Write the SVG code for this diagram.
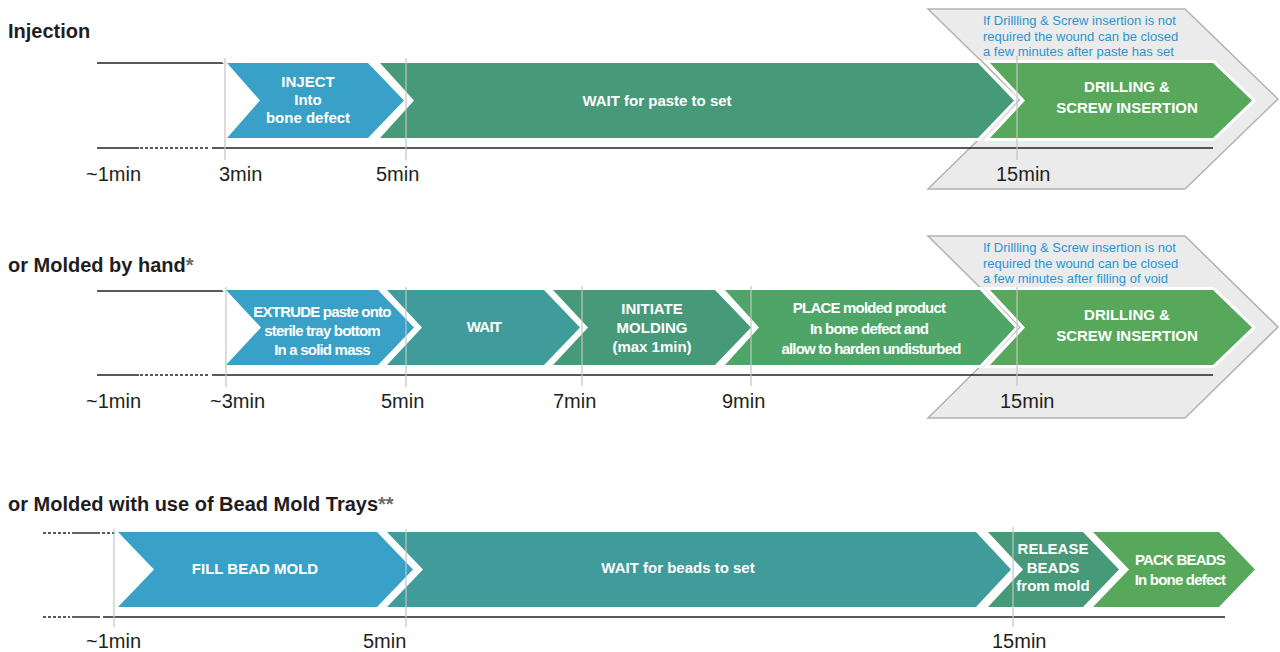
<svg xmlns="http://www.w3.org/2000/svg" width="1280" height="652" viewBox="0 0 1280 652">
<style>
.bg{fill:#ffffff}
.title{font-family:"Liberation Sans",Arial,sans-serif;font-size:20px;font-weight:bold;fill:#1f1d1e}
.ast{fill:#6a6a6a}
.tl{font-family:"Liberation Sans",Arial,sans-serif;font-size:20px;fill:#231f20}
.lab{font-family:"Liberation Sans",Arial,sans-serif;font-size:15px;font-weight:bold;fill:#ffffff;text-anchor:middle}
.cond{letter-spacing:-0.8px}
.note{font-family:"Liberation Sans",Arial,sans-serif;font-size:13px;fill:#2a95d2}
.chev{stroke:#ffffff;stroke-width:6;paint-order:stroke fill;stroke-linejoin:miter}
.blue{fill:#39a1c8}
.teal{fill:#3f9c9a}
.gteal{fill:#469a7a}
.green2{fill:#4fa468}
.green{fill:#58a85c}
.gray{fill:#ebebeb;stroke:#b2b2b2;stroke-width:1.5}
.axis{stroke:#222222;stroke-width:1.4;fill:none}
.dash{stroke:#222222;stroke-width:1.4;stroke-dasharray:3 2;fill:none}
.tick{stroke:#c4c4c4;stroke-width:1.2;fill:none}
</style>
<rect class="bg" x="0" y="0" width="1280" height="652"/>

<!-- titles -->
<text class="title" x="8" y="38">Injection</text>
<text class="title" x="8" y="272">or Molded by hand<tspan class="ast">*</tspan></text>
<text class="title" x="8" y="511">or Molded with use of Bead Mold Trays<tspan class="ast">**</tspan></text>

<!-- gray optional zones -->
<g id="note1">
<polygon class="gray" points="928,9 1185,9 1278,99 1185,189 928,189 1020,99"/>
<text class="note" x="983" y="25">If Drillling &amp; Screw insertion is not</text>
<text class="note" x="983" y="41">required the wound can be closed</text>
<text class="note" x="983" y="56">a few minutes after paste has set</text>
</g>
<g id="note2">
<polygon class="gray" points="928,236 1185,236 1278,327 1185,418 928,418 1020,327"/>
<text class="note" x="983" y="252">If Drillling &amp; Screw insertion is not</text>
<text class="note" x="983" y="268">required the wound can be closed</text>
<text class="note" x="983" y="283">a few minutes after filling of void</text>
</g>

<!-- timelines -->
<g id="connectors">
<line class="axis" x1="97" y1="63" x2="227" y2="63"/>
<line class="axis" x1="97" y1="148" x2="139" y2="148"/>
<line class="dash" x1="140" y1="148" x2="210" y2="148"/>
<line class="axis" x1="212" y1="148" x2="1213" y2="148"/>

<line class="axis" x1="97" y1="291" x2="226" y2="291"/>
<line class="axis" x1="97" y1="375" x2="139" y2="375"/>
<line class="dash" x1="140" y1="375" x2="210" y2="375"/>
<line class="axis" x1="212" y1="375" x2="1213" y2="375"/>

<line class="dash" x1="43" y1="533" x2="70" y2="533"/>
<line class="axis" x1="72" y1="533" x2="100" y2="533"/>
<line class="dash" x1="102" y1="533" x2="117" y2="533"/>
<line class="dash" x1="43" y1="617" x2="70" y2="617"/>
<line class="axis" x1="72" y1="617" x2="100" y2="617"/>
<line class="axis" x1="103" y1="617" x2="1225" y2="617"/>
</g>

<!-- row 1 -->
<g id="inject">
<polygon class="chev blue" points="227,63 368,63 404,100.5 368,138 227,138 260,100.5"/>
<text class="lab" x="308" y="87">INJECT</text>
<text class="lab" x="308" y="105">Into</text>
<text class="lab" x="308" y="123">bone defect</text>
</g>
<g id="wait1">
<polygon class="chev gteal" points="380,63 978,63 1014,100.5 978,138 380,138 414,100.5"/>
<text class="lab" x="657" y="106">WAIT for paste to set</text>
</g>
<g id="drill1">
<polygon class="chev green" points="990,63 1213,63 1252,100.5 1213,138 990,138 1025,100.5"/>
<text class="lab" x="1127" y="92">DRILLING &amp;</text>
<text class="lab" x="1127" y="113">SCREW INSERTION</text>
</g>

<!-- row 2 -->
<g id="extrude">
<polygon class="chev blue" points="226,290 378,290 414,327.5 378,365 226,365 261,327.5"/>
<text class="lab cond" x="322" y="317">EXTRUDE paste onto</text>
<text class="lab cond" x="322" y="336">sterile tray bottom</text>
<text class="lab cond" x="322" y="355">In a solid mass</text>
</g>
<g id="wait2">
<polygon class="chev teal" points="387,290 544,290 580,327.5 544,365 387,365 422,327.5"/>
<text class="lab cond" x="484" y="332">WAIT</text>
</g>
<g id="initiate">
<polygon class="chev gteal" points="553,290 715,290 751,327.5 715,365 553,365 588,327.5"/>
<text class="lab" x="652" y="314">INITIATE</text>
<text class="lab" x="652" y="333">MOLDING</text>
<text class="lab" x="652" y="352">(max 1min)</text>
</g>
<g id="place">
<polygon class="chev green2" points="725,290 980,290 1015,327.5 980,365 725,365 759,327.5"/>
<text class="lab cond" x="869" y="313">PLACE molded product</text>
<text class="lab cond" x="869" y="334">In bone defect and</text>
<text class="lab cond" x="871" y="354">allow to harden undisturbed</text>
</g>
<g id="drill2">
<polygon class="chev green" points="990,290 1213,290 1252,327.5 1213,365 990,365 1025,327.5"/>
<text class="lab" x="1127" y="320">DRILLING &amp;</text>
<text class="lab" x="1127" y="341">SCREW INSERTION</text>
</g>

<!-- row 3 -->
<g id="fill">
<polygon class="chev blue" points="118,532 377,532 413,569.5 377,607 118,607 154,569.5"/>
<text class="lab" x="255" y="574">FILL BEAD MOLD</text>
</g>
<g id="wait3">
<polygon class="chev teal" points="387,532 976,532 1011,569.5 976,607 387,607 423,569.5"/>
<text class="lab" x="678" y="573">WAIT for beads to set</text>
</g>
<g id="release">
<polygon class="chev gteal" points="988,532 1083,532 1119,569.5 1083,607 988,607 1023,569.5"/>
<text class="lab" x="1053" y="554">RELEASE</text>
<text class="lab" x="1053" y="573">BEADS</text>
<text class="lab" x="1053" y="591">from mold</text>
</g>
<g id="pack">
<polygon class="chev green" points="1093,532 1219,532 1255,569.5 1219,607 1093,607 1129,569.5"/>
<text class="lab cond" x="1180" y="565">PACK BEADS</text>
<text class="lab cond" x="1180" y="585">In bone defect</text>
</g>

<!-- ticks -->
<g id="ticks">
<line class="tick" x1="225" y1="58" x2="225" y2="160"/>
<line class="tick" x1="406" y1="58" x2="406" y2="160"/>
<line class="tick" x1="1017" y1="56" x2="1017" y2="160"/>
<line class="tick" x1="226" y1="287" x2="226" y2="387"/>
<line class="tick" x1="406" y1="287" x2="406" y2="387"/>
<line class="tick" x1="582" y1="286" x2="582" y2="386"/>
<line class="tick" x1="751" y1="286" x2="751" y2="386"/>
<line class="tick" x1="1017" y1="287" x2="1017" y2="386"/>
<line class="tick" x1="114" y1="529" x2="114" y2="627"/>
<line class="tick" x1="406" y1="529" x2="406" y2="627"/>
<line class="tick" x1="1013" y1="527" x2="1013" y2="627"/>
</g>

<!-- time labels -->
<g id="times">
<text class="tl" x="86" y="181">~1min</text>
<text class="tl" x="219" y="181">3min</text>
<text class="tl" x="376" y="181">5min</text>
<text class="tl" x="996" y="181">15min</text>
<text class="tl" x="86" y="408">~1min</text>
<text class="tl" x="210" y="408">~3min</text>
<text class="tl" x="381" y="408">5min</text>
<text class="tl" x="553" y="408">7min</text>
<text class="tl" x="722" y="408">9min</text>
<text class="tl" x="1000" y="408">15min</text>
<text class="tl" x="86" y="648">~1min</text>
<text class="tl" x="363" y="648">5min</text>
<text class="tl" x="992" y="648">15min</text>
</g>
</svg>
